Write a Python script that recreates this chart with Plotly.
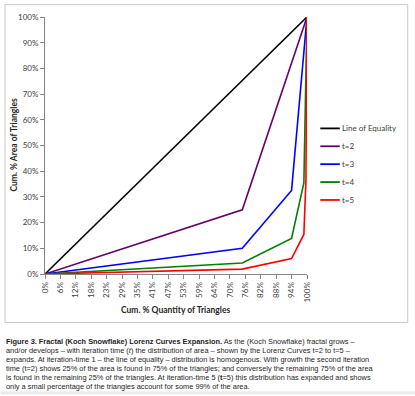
import plotly.graph_objects as go

W, H = 415, 396
PL, PR, PT, PB = 44.5, 306.7, 14.0, 274.0  # plot area in pixels


def px2x(px):
    return (px - PL) / (PR - PL)


def py2y(py):
    return (PB - py) / (PB - PT)


# ---------------- data ----------------
x_tick_labels = ["0%", "6%", "12%", "18%", "23%", "29%", "35%", "41%", "47%",
                 "53%", "59%", "64%", "70%", "76%", "82%", "88%", "94%", "100%"]
y_tick_values = [0, 10, 20, 30, 40, 50, 60, 70, 80, 90, 100]
y_tick_labels = ["0%", "10%", "20%", "30%", "40%", "50%", "60%", "70%", "80%", "90%", "100%"]

series_names = ["Line of Equality", "t=2", "t=3", "t=4", "t=5"]
series_colors = ["#000000", "#660066", "#0000FF", "#008000", "#FF0000"]

x_equality = [0, 100]
y_equality = [0, 100]
x_t2 = [0, 75.3, 100]
y_t2 = [0, 25.0, 100]
x_t3 = [0, 75.3, 94.1, 100]
y_t3 = [0, 10.0, 32.5, 100]
x_t4 = [0, 75.3, 94.1, 98.8, 100]
y_t4 = [0, 4.3, 13.8, 35.4, 100]
x_t5 = [0, 75.3, 94.1, 98.8, 99.6, 100]
y_t5 = [0, 1.9, 6.0, 15.4, 36.6, 100]

series_x = [x_equality, x_t2, x_t3, x_t4, x_t5]
series_y = [y_equality, y_t2, y_t3, y_t4, y_t5]

caption_lines = [
    "<b>Figure 3. Fractal (Koch Snowflake) Lorenz Curves Expansion.</b> As the (Koch Snowflake) fractal grows –",
    "and/or develops – with iteration time (<i>t</i>) the distribution of area – shown by the Lorenz Curves t=2 to t=5 –",
    "expands. At iteration-time 1 – the line of equality – distribution is homogenous. With growth the second iteration",
    "time (t=2) shows 25% of the area is found in 75% of the triangles; and conversely the remaining 75% of the area",
    "is found in the remaining 25% of the triangles. At iteration-time 5 (<b>t</b>=5) this distribution has expanded and shows",
    "only a small percentage of the triangles account for some 99% of the area.",
]

# tick positions: a label every 15 of 255 category steps
x_tick_values = [k * 15 / 255 * 100 for k in range(len(x_tick_labels))]

CHART_FONT = "Lato, Carlito, Calibri, sans-serif"
CAP_FONT = "Liberation Sans, Arial, sans-serif"

fig = go.Figure()
for name, color, xs, ys in zip(series_names, series_colors, series_x, series_y):
    fig.add_trace(go.Scatter(x=xs, y=ys, mode="lines", name=name,
                             line=dict(color=color, width=1.6),
                             showlegend=False, hoverinfo="skip"))

annotations = []
shapes = []

# outer border of the chart box
shapes.append(dict(type="rect", xref="paper", yref="paper",
                   x0=px2x(4.5), x1=px2x(407.5), y0=py2y(1.5), y1=py2y(323),
                   line=dict(color="#c8c8c8", width=1), fillcolor="rgba(0,0,0,0)",
                   layer="below"))
# light band at the very bottom
shapes.append(dict(type="rect", xref="paper", yref="paper",
                   x0=px2x(0), x1=px2x(W), y0=py2y(392.5), y1=py2y(H),
                   line=dict(width=0), fillcolor="#ececec", layer="below"))

# manual legend
for i, (name, color) in enumerate(zip(series_names, series_colors)):
    yy = 126.7 + i * 18.1
    shapes.append(dict(type="line", xref="paper", yref="paper",
                       x0=px2x(320), x1=px2x(339.5), y0=py2y(yy), y1=py2y(yy),
                       line=dict(color=color, width=1.8)))
    annotations.append(dict(text=name, xref="paper", yref="paper",
                            x=px2x(340), y=py2y(yy), xanchor="left", yanchor="middle",
                            showarrow=False, font=dict(family=CHART_FONT, size=8, color="#404040")))

# axis titles
annotations.append(dict(text="<b>Cum. % Quantity of Triangles</b>", xref="paper", yref="paper",
                        x=px2x(176), y=py2y(310), xanchor="center", yanchor="middle",
                        showarrow=False, font=dict(family=CHART_FONT, size=8.5, color="#262626")))
annotations.append(dict(text="<b>Cum. % Area of Triangles</b>", xref="paper", yref="paper",
                        x=px2x(12.5), y=py2y(144), xanchor="center", yanchor="middle",
                        textangle=-90, showarrow=False,
                        font=dict(family=CHART_FONT, size=8.5, color="#262626")))

# caption
for i, line in enumerate(caption_lines):
    annotations.append(dict(text=line, xref="paper", yref="paper",
                            x=px2x(3.5), y=py2y(342 + i * 9.2), xanchor="left", yanchor="middle",
                            showarrow=False, align="left",
                            font=dict(family=CAP_FONT, size=7.4, color="#1e1e1e")))

fig.update_layout(
    width=W, height=H,
    margin=dict(l=PL, r=W - PR, t=PT, b=H - PB, pad=0),
    paper_bgcolor="white", plot_bgcolor="white",
    showlegend=False,
    shapes=shapes, annotations=annotations,
    xaxis=dict(range=[0, 100], tickmode="array", tickvals=x_tick_values, ticktext=x_tick_labels,
               tickangle=-90, showgrid=False, zeroline=False, showline=True,
               linecolor="#868686", linewidth=1, ticks="outside", ticklen=4,
               tickcolor="#868686", tickfont=dict(family=CHART_FONT, size=8, color="#404040"),
               fixedrange=True),
    yaxis=dict(range=[0, 100], tickmode="array", tickvals=y_tick_values, ticktext=y_tick_labels,
               showgrid=False, zeroline=False, showline=True,
               linecolor="#868686", linewidth=1, ticks="outside", ticklen=4,
               tickcolor="#868686", tickfont=dict(family=CHART_FONT, size=8, color="#404040"),
               fixedrange=True),
)

fig.write_html("out.html", config={"displayModeBar": False},
               post_script="document.body.style.margin='0';document.body.style.overflow='hidden';")
